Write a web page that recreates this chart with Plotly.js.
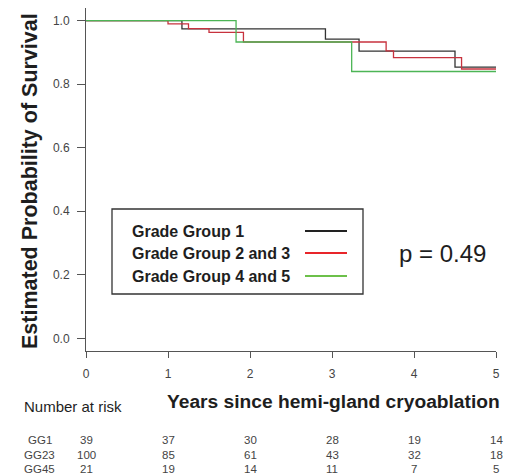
<!DOCTYPE html>
<html>
<head>
<meta charset="utf-8">
<script src="https://cdn.plot.ly/plotly-3.0.1.min.js"></script>
<style>html,body{margin:0;padding:0;background:#fff;}#chart{width:516px;height:475px;}</style>
</head>
<body>
<div id="chart"></div>
<script>
// ---- data ----
const gg1Time = [0, 1.17, 2.92, 3.33, 4.50, 5];
const gg1Surv = [1, 0.974, 0.942, 0.904, 0.854, 0.854];
const gg23Time = [0, 1.00, 1.25, 1.50, 1.92, 3.66, 3.75, 4.58, 5];
const gg23Surv = [1, 0.990, 0.975, 0.963, 0.933, 0.905, 0.884, 0.848, 0.848];
const gg45Time = [0, 1.83, 3.24, 5];
const gg45Surv = [1, 0.933, 0.840, 0.840];

const seriesNames = ["Grade Group 1", "Grade Group 2 and 3", "Grade Group 4 and 5"];
const riskLabels = ["GG1", "GG23", "GG45"];
const riskTimes = [0, 1, 2, 3, 4, 5];
const riskGG1 = [39, 37, 30, 28, 19, 14];
const riskGG23 = [100, 85, 61, 43, 32, 18];
const riskGG45 = [21, 19, 14, 11, 7, 5];
const yTickVals = [0, 0.2, 0.4, 0.6, 0.8, 1.0];
const yTickText = ["0.0", "0.2", "0.4", "0.6", "0.8", "1.0"];
const xTickVals = [0, 1, 2, 3, 4, 5];
const pText = "p = 0.49";

// ---- layout helpers ----
const L = 86, R = 20, T = 8, B = 124, W = 516, H = 475;
const PW = W - L - R, PH = H - T - B;
const px = x => (x - L) / PW;
const py = y => (H - B - y) / PH;

const curveColors = ["#333333", "#c7323e", "#4cb556"];
const legendColors = ["#222222", "#e8252a", "#6cc04a"];
const FONT = "Liberation Sans, Arial, sans-serif";

const traces = [
  {x: gg1Time, y: gg1Surv, name: seriesNames[0]},
  {x: gg23Time, y: gg23Surv, name: seriesNames[1]},
  {x: gg45Time, y: gg45Surv, name: seriesNames[2]}
].map((t, i) => Object.assign(t, {
  type: "scatter", mode: "lines",
  line: {shape: "hv", color: curveColors[i], width: 1.3},
  hoverinfo: "skip", showlegend: false, cliponaxis: false
}));

const riskRows = [riskGG1, riskGG23, riskGG45];
const rowY = [439.5, 454.5, 468.5];
const annotations = [];
const textDark = "#1e1e1e";
annotations.push({
  xref: "paper", yref: "paper", x: px(30), y: py(181), textangle: -90,
  text: "<b>Estimated Probability of Survival</b>", showarrow: false,
  xanchor: "center", yanchor: "middle",
  font: {family: FONT, size: 21.5, color: textDark}
});
annotations.push({
  xref: "paper", yref: "paper", x: px(333), y: py(402),
  text: "<b>Years since hemi-gland cryoablation</b>", showarrow: false,
  xanchor: "center", yanchor: "middle",
  font: {family: FONT, size: 19.2, color: textDark}
});
annotations.push({
  xref: "paper", yref: "paper", x: px(22), y: py(406),
  text: "Number at risk", showarrow: false, xanchor: "left", yanchor: "middle",
  font: {family: FONT, size: 15, color: textDark}
});
const riskFont = {family: FONT, size: 11.5, color: "#444"};
riskLabels.forEach((lab, r) => {
  annotations.push({
    xref: "paper", yref: "paper", x: px(39.5), y: py(rowY[r]),
    text: lab, showarrow: false, xanchor: "center", yanchor: "middle",
    font: riskFont, borderpad: 0
  });
  riskTimes.forEach((t, c) => {
    annotations.push({
      xref: "x", yref: "paper", x: t, y: py(rowY[r]),
      text: String(riskRows[r][c]), showarrow: false, xanchor: "center", yanchor: "middle",
      font: riskFont, borderpad: 0
    });
  });
});
// legend
const legY = [231, 253, 276];
const shapes = [{
  type: "rect", xref: "paper", yref: "paper",
  x0: px(112), x1: px(363), y0: py(294), y1: py(209),
  line: {color: "#333", width: 1.3}, fillcolor: "rgba(0,0,0,0)"
}];
seriesNames.forEach((n, i) => {
  annotations.push({
    xref: "paper", yref: "paper", x: px(130), y: py(legY[i]),
    text: "<b>" + n + "</b>", showarrow: false, xanchor: "left", yanchor: "middle",
    font: {family: FONT, size: 16, color: textDark}
  });
  shapes.push({
    type: "line", xref: "paper", yref: "paper",
    x0: px(305), x1: px(347), y0: py(legY[i]), y1: py(legY[i]),
    line: {color: legendColors[i], width: 2}
  });
});
annotations.push({
  xref: "paper", yref: "paper", x: px(442), y: py(253),
  text: pText, showarrow: false, xanchor: "center", yanchor: "middle",
  font: {family: FONT, size: 24, color: textDark}
});

const layout = {
  width: W, height: H,
  margin: {l: L, r: R, t: T, b: B, pad: 0},
  paper_bgcolor: "#fff", plot_bgcolor: "#fff",
  showlegend: false,
  xaxis: {
    range: [0, 5], tickvals: xTickVals, ticktext: xTickVals.map(String),
    showgrid: false, zeroline: false, showline: true, linecolor: "#555", linewidth: 1,
    ticks: "outside", ticklen: 6, tickcolor: "#555", tickwidth: 1,
    ticklabelstandoff: 6,
    tickfont: {family: FONT, size: 12, color: "#444"},
    fixedrange: true
  },
  yaxis: {
    range: [-0.04, 1.04], tickvals: yTickVals, ticktext: yTickText,
    showgrid: false, zeroline: false, showline: true, linecolor: "#555", linewidth: 1,
    ticks: "outside", ticklen: 8, tickcolor: "#555", tickwidth: 1,
    ticklabelstandoff: 5,
    tickfont: {family: FONT, size: 12, color: "#444"},
    fixedrange: true
  },
  annotations: annotations,
  shapes: shapes
};

Plotly.newPlot("chart", traces, layout, {displayModeBar: false, staticPlot: true});
</script>
</body>
</html>
